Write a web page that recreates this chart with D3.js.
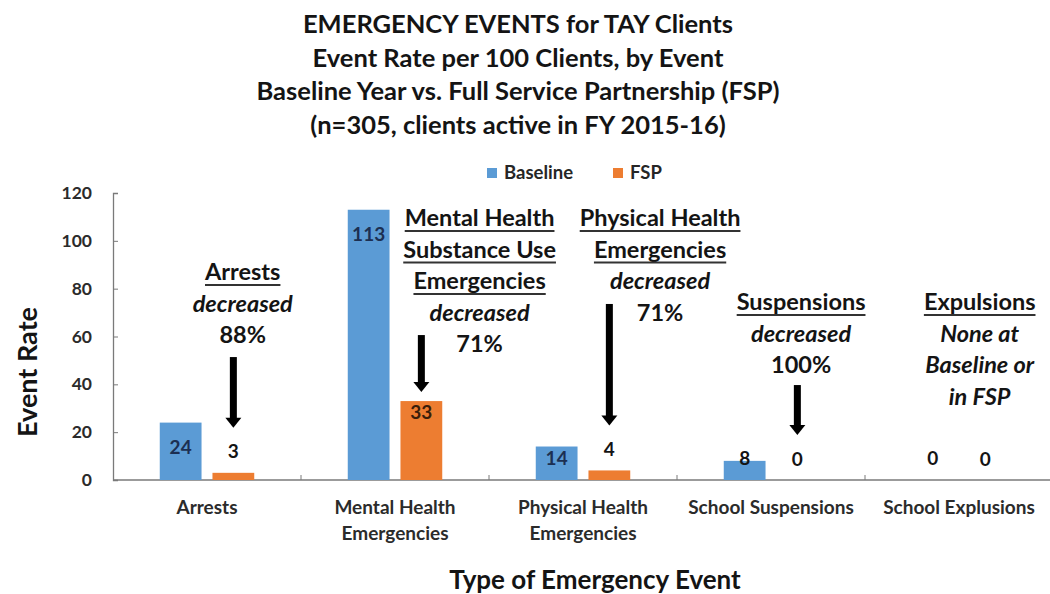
<!DOCTYPE html>
<html><head><meta charset="utf-8">
<script src="https://cdn.jsdelivr.net/npm/d3@7"></script>
<style>
body{margin:0;background:#fff;}
svg text{font-family:Lato,'Open Sans',sans-serif;font-weight:700;}
</style>
</head><body>
<svg id="chart" width="1050" height="594"></svg>
<script>
// ---- data ----
const categories = ["Arrests", "Mental Health\nEmergencies", "Physical Health\nEmergencies", "School Suspensions", "School Explusions"];
const series = ["Baseline", "FSP"];
const baselineValues = [24, 113, 14, 8, 0];
const fspValues = [3, 33, 4, 0, 0];
const yTicks = [0, 20, 40, 60, 80, 100, 120];
const titleLines = ["EMERGENCY EVENTS for TAY Clients", "Event Rate per 100 Clients, by Event",
  "Baseline Year vs. Full Service Partnership (FSP)", "(n=305, clients active in FY 2015-16)"];
const annotationTexts = [
  [["Arrests", "head"], ["decreased", "ital"], ["88%", "plain"]],
  [["Mental Health", "head"], ["Substance Use", "head"], ["Emergencies", "head"], ["decreased", "ital"], ["71%", "plain"]],
  [["Physical Health", "head"], ["Emergencies", "head"], ["decreased", "ital"], ["71%", "plain"]],
  [["Suspensions", "head"], ["decreased", "ital"], ["100%", "plain"]],
  [["Expulsions", "head"], ["None at", "ital"], ["Baseline or", "ital"], ["in FSP", "ital"]]
];
// annotation anchors: fraction across band, first-line value, arrow top value (null = no arrow)
const annotationAnchors = [
  {fx: 0.69, topValue: 87, arrowTop: 51.4},
  {fx: 0.95, topValue: 109.5, arrowTop: 60.6},
  {fx: 0.91, topValue: 109.5, arrowTop: 73.6},
  {fx: 0.66, topValue: 74.4, arrowTop: 39.7},
  {fx: 0.61, topValue: 74.4, arrowTop: null}
];

// ---- styles ----
const colors = {Baseline: "#5B9BD5", FSP: "#ED7D31"};
const svg = d3.select("#chart");
const mLeft = 113, mRight = 1053, mTop = 193, mBottom = 480;

const x0 = d3.scaleBand().domain(categories).range([mLeft, mRight]);
const x1 = d3.scaleBand().domain(series).range([0, x0.bandwidth()]).paddingInner(0.2075).paddingOuter(0.887);
const y = d3.scaleLinear().domain([0, 120]).range([mBottom, mTop]);

const rows = categories.map((c, i) => ({cat: c, Baseline: baselineValues[i], FSP: fspValues[i]}));

// title
svg.append("g").selectAll("text").data(titleLines).join("text")
  .attr("x", 518).attr("y", (d, i) => 33 + i * 33.5)
  .attr("text-anchor", "middle").attr("font-size", 25.5).attr("fill", "#141414")
  .text(d => d);

// legend
const legend = svg.append("g");
const legendItems = [{s: "Baseline", x: 487}, {s: "FSP", x: 613}];
legendItems.forEach(it => {
  legend.append("rect").attr("x", it.x).attr("y", 168).attr("width", 10).attr("height", 10).attr("fill", colors[it.s]);
  legend.append("text").attr("x", it.x + 17).attr("y", 173).attr("dy", "0.35em")
    .attr("font-size", 18.5).attr("fill", "#262626").text(it.s);
});

// y axis
const yAxis = svg.append("g").attr("transform", `translate(${mLeft},0)`)
  .call(d3.axisLeft(y).tickValues(yTicks).tickSize(-5).tickPadding(21));
yAxis.select(".domain").attr("stroke", "#7a7a7a").attr("stroke-width", 1.3);
yAxis.selectAll(".tick line").attr("stroke", "#7a7a7a");
yAxis.selectAll(".tick text").attr("font-size", 17.5).attr("fill", "#2b2b2b")
  .style("font-family", "Lato, sans-serif").style("font-weight", 700);

// x axis
const xAxisG = svg.append("g").attr("transform", `translate(0,${mBottom})`);
xAxisG.append("line").attr("x1", mLeft).attr("x2", mRight).attr("stroke", "#7a7a7a").attr("stroke-width", 1.3);
xAxisG.selectAll(".xt").data(categories.slice(1)).join("line")
  .attr("x1", d => x0(d)).attr("x2", d => x0(d)).attr("y1", 0).attr("y2", -5).attr("stroke", "#7a7a7a");
const xLab = svg.append("g").selectAll("text").data(categories).join("text")
  .attr("x", d => x0(d) + x0.bandwidth() / 2).attr("text-anchor", "middle")
  .attr("font-size", 19).attr("fill", "#2b2b2b");
xLab.each(function(d) {
  d3.select(this).selectAll("tspan").data(d.split("\n")).join("tspan")
    .attr("x", x0(d) + x0.bandwidth() / 2).attr("y", (t, i) => 507 + i * 26).attr("dy", "0.35em").text(t => t);
});

// axis titles
svg.append("text").attr("transform", "translate(28,372) rotate(-90)").attr("text-anchor", "middle")
  .attr("dy", "0.35em").attr("font-size", 27).attr("fill", "#141414").text("Event Rate");
svg.append("text").attr("x", 595).attr("y", 580).attr("text-anchor", "middle")
  .attr("dy", "0.35em").attr("font-size", 26).attr("fill", "#141414").text("Type of Emergency Event");

// bars
const groups = svg.append("g").selectAll("g").data(rows).join("g")
  .attr("transform", d => `translate(${x0(d.cat)},0)`);
groups.selectAll("rect").data(d => series.map(s => ({s, v: d[s]}))).join("rect")
  .attr("x", d => x1(d.s)).attr("width", x1.bandwidth())
  .attr("y", d => y(d.v)).attr("height", d => y(0) - y(d.v))
  .attr("fill", d => colors[d.s]);

// data labels
function labelY(s, v) {
  if (s === "Baseline") return Math.min(y(v) + 25, y(0) - 22);
  return v >= 20 ? y(v) + 11 : y(v) - 21;
}
groups.selectAll("text").data(d => series.map(s => ({s, v: d[s]}))).join("text")
  .attr("x", d => x1(d.s) + x1.bandwidth() / 2).attr("y", d => labelY(d.s, d.v)).attr("dy", "0.35em")
  .attr("text-anchor", "middle").attr("font-size", 19)
  .attr("fill", d => (d.s === "Baseline" && d.v >= 10) ? "#1c2f52" : (d.s === "FSP" && d.v >= 20 ? "#3a1e0a" : "#141414"))
  .text(d => d.v);

// annotations
const ann = svg.append("g");
annotationTexts.forEach((lines, i) => {
  const a = annotationAnchors[i];
  const cat = categories[i];
  const cx = x0(cat) + x0.bandwidth() * a.fx;
  const y0 = y(a.topValue);
  lines.forEach((ln, j) => {
    const t = ann.append("text").attr("x", cx).attr("y", y0 + j * 31.5).attr("dy", "0.35em")
      .attr("text-anchor", "middle").attr("font-size", 23.5).attr("fill", "#141414")
      .attr("font-style", ln[1] === "ital" ? "italic" : "normal").text(ln[0]);
    if (ln[1] === "head") {
      const w = t.node().getComputedTextLength();
      ann.append("line").attr("x1", cx - w / 2).attr("x2", cx + w / 2)
        .attr("y1", y0 + j * 31.5 + 13).attr("y2", y0 + j * 31.5 + 13)
        .attr("stroke", "#333").attr("stroke-width", 2);
    }
  });
  if (a.arrowTop !== null) {
    const v = fspValues[i];
    const ax = x0(cat) + x1("FSP") + x1.bandwidth() / 2;
    const tip = v >= 20 ? y(v) - 9 : labelY("FSP", v) - 24;
    const yTop = y(a.arrowTop);
    ann.append("rect").attr("x", ax - 3.5).attr("y", yTop).attr("width", 7).attr("height", tip - 9 - yTop).attr("fill", "#000");
    ann.append("path").attr("d", `M${ax - 8},${tip - 10}L${ax + 8},${tip - 10}L${ax},${tip}Z`).attr("fill", "#000");
  }
});
</script>
</body></html>
